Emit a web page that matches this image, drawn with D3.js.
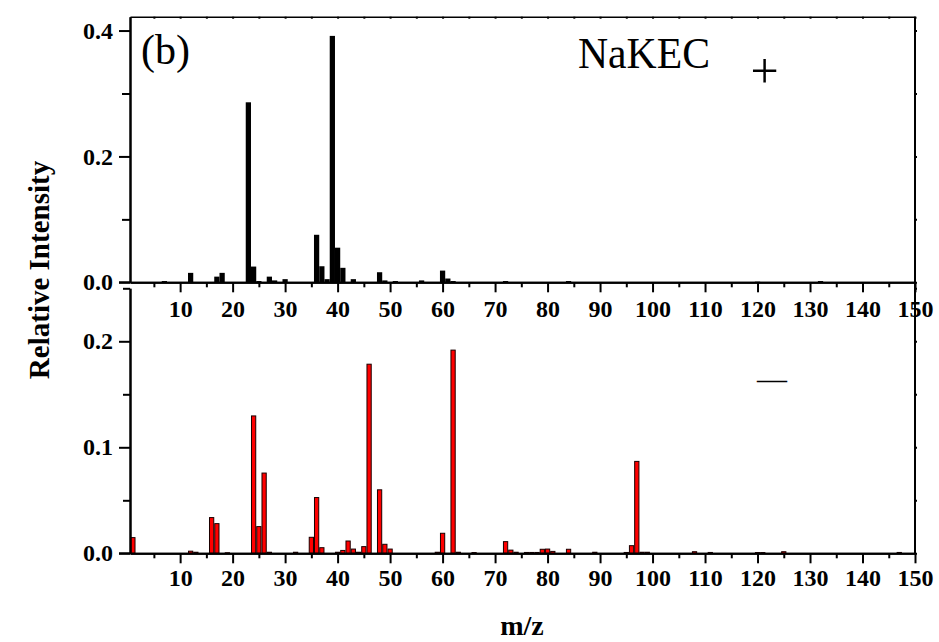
<!DOCTYPE html>
<html>
<head>
<meta charset="utf-8">
<script src="https://cdn.jsdelivr.net/npm/d3@7"></script>
<style>
  html, body { margin: 0; padding: 0; background: #fff; }
  svg { display: block; }
</style>
</head>
<body>
<svg id="chart" width="939" height="642"></svg>
<script>
// ---- data ----
const topMz  = [7, 12, 17, 18, 23, 24, 25, 27, 28, 30, 36, 37, 38, 39, 40, 41, 43, 48, 49, 51, 56, 60, 61, 62, 72, 84, 120, 132];
const topVal = [0.002, 0.015, 0.009, 0.015, 0.286, 0.025, 0.002, 0.009, 0.003, 0.005, 0.0755, 0.0255, 0.005, 0.3915, 0.055, 0.023, 0.005, 0.016, 0.003, 0.002, 0.003, 0.0186, 0.006, 0.002, 0.002, 0.002, 0.001, 0.002];

const botMz  = [1, 12, 13, 16, 17, 19, 24, 25, 26, 27, 32, 35, 36, 37, 40, 41, 42, 43, 44, 45, 46, 48, 49, 50, 59, 60, 62, 63, 66, 72, 73, 74, 76, 77, 78, 79, 80, 81, 84, 89, 95, 96, 97, 98, 99, 108, 111, 120, 121, 125, 147];
const botVal = [0.0148, 0.002, 0.001, 0.0337, 0.028, 0.0005, 0.1296, 0.0252, 0.0757, 0.001, 0.001, 0.0151, 0.0526, 0.0053, 0.001, 0.0027, 0.0116, 0.004, 0.001, 0.0063, 0.1784, 0.0599, 0.0085, 0.004, 0.001, 0.0189, 0.1917, 0.001, 0.0007, 0.011, 0.003, 0.001, 0.0008, 0.0008, 0.0008, 0.0038, 0.004, 0.0018, 0.0038, 0.001, 0.0008, 0.0072, 0.0867, 0.001, 0.001, 0.0015, 0.0008, 0.0007, 0.0007, 0.0015, 0.0008];

const xMajor = [10, 20, 30, 40, 50, 60, 70, 80, 90, 100, 110, 120, 130, 140, 150];
const xMinor = [5, 15, 25, 35, 45, 55, 65, 75, 85, 95, 105, 115, 125, 135, 145];
const topYMajor = [0.0, 0.2, 0.4];
const topYMinor = [0.1, 0.3];
const botYMajor = [0.0, 0.1, 0.2];
const botYMinor = [0.05, 0.15, 0.25];

// ---- layout ----
const svg = d3.select("#chart");
const L = 130, R = 915;
const topY0 = 282.3, topY1 = 16.7;
const botY0 = 553.3, botY1 = 288.3;
const serif = '"Liberation Serif", "Times New Roman", serif';

const x = d3.scaleLinear().domain([0.45, 150]).range([L, R]);
const yTop = d3.scaleLinear().domain([0, 0.422]).range([topY0, topY1]);
const yBot = d3.scaleLinear().domain([0, 0.25]).range([botY0, botY1]);

const topData = topMz.map((m, i) => ({m, v: topVal[i]}));
const botData = botMz.map((m, i) => ({m, v: botVal[i]}));

// ---- bars ----
svg.append("g").selectAll("rect").data(topData).join("rect")
  .attr("x", d => x(d.m - 0.5))
  .attr("width", d => x(d.m + 0.5) - x(d.m - 0.5))
  .attr("y", d => yTop(d.v))
  .attr("height", d => yTop(0) - yTop(d.v))
  .attr("fill", "#000");

svg.append("g").selectAll("rect").data(botData).join("rect")
  .attr("x", d => x(d.m - 0.5) + 0.5)
  .attr("width", d => x(d.m + 0.5) - x(d.m - 0.5) - 1)
  .attr("y", d => yBot(d.v))
  .attr("height", d => yBot(0) - yBot(d.v))
  .attr("fill", "#ff0000")
  .attr("stroke", "#1a0000")
  .attr("stroke-width", 1);

// ---- axes ----
function styleAxis(g, w) {
  g.attr("font-family", serif).attr("font-size", 24).attr("font-weight", "bold");
  g.selectAll(".domain").attr("stroke", "#000").attr("stroke-width", w);
  g.selectAll(".tick line").attr("stroke", "#000").attr("stroke-width", 2);
  g.selectAll(".tick text").attr("fill", "#000");
}

// top panel: bottom axis
svg.append("g").attr("transform", `translate(0,${topY0})`)
  .call(d3.axisBottom(x).tickValues(xMinor).tickSize(5).tickFormat("").tickSizeOuter(0))
  .call(g => styleAxis(g, 2));
svg.append("g").attr("transform", `translate(0,${topY0})`)
  .call(d3.axisBottom(x).tickValues(xMajor).tickSize(10).tickPadding(8).tickFormat(d3.format("d")).tickSizeOuter(0))
  .call(g => styleAxis(g, 2));

// bottom panel: bottom axis
svg.append("g").attr("transform", `translate(0,${botY0})`)
  .call(d3.axisBottom(x).tickValues(xMinor).tickSize(5).tickFormat("").tickSizeOuter(0))
  .call(g => styleAxis(g, 2));
svg.append("g").attr("transform", `translate(0,${botY0})`)
  .call(d3.axisBottom(x).tickValues(xMajor).tickSize(10).tickPadding(6).tickFormat(d3.format("d")).tickSizeOuter(0))
  .call(g => styleAxis(g, 2));

// extend the zero lines to the left tick
svg.append("line").attr("x1", 119).attr("x2", L).attr("y1", topY0).attr("y2", topY0).attr("stroke", "#000").attr("stroke-width", 2);
svg.append("line").attr("x1", 119).attr("x2", L).attr("y1", botY0).attr("y2", botY0).attr("stroke", "#000").attr("stroke-width", 2);

// top panel left axis
svg.append("g").attr("transform", `translate(${L},0)`)
  .call(d3.axisLeft(yTop).tickValues(topYMinor).tickSize(8).tickFormat("").tickSizeOuter(0))
  .call(g => styleAxis(g, 2));
svg.append("g").attr("transform", `translate(${L},0)`)
  .call(d3.axisLeft(yTop).tickValues(topYMajor).tickSize(11).tickPadding(6).tickFormat(d3.format(".1f")).tickSizeOuter(0))
  .call(g => styleAxis(g, 2));

// bottom panel left axis
svg.append("g").attr("transform", `translate(${L},0)`)
  .call(d3.axisLeft(yBot).tickValues(botYMinor).tickSize(7).tickFormat("").tickSizeOuter(0))
  .call(g => styleAxis(g, 2));
svg.append("g").attr("transform", `translate(${L},0)`)
  .call(d3.axisLeft(yBot).tickValues(botYMajor).tickSize(11).tickPadding(6).tickFormat(d3.format(".1f")).tickSizeOuter(0))
  .call(g => styleAxis(g, 2));

// top border with small inward ticks
svg.append("g").attr("transform", `translate(0,${topY1})`)
  .call(d3.axisBottom(x).tickValues(xMajor.concat(xMinor)).tickSize(2).tickFormat("").tickSizeOuter(0))
  .call(g => styleAxis(g, 1.5));

// right border with small outward ticks
svg.append("line").attr("x1", R).attr("x2", R).attr("y1", topY1).attr("y2", botY0)
  .attr("stroke", "#000").attr("stroke-width", 2);
svg.append("g").attr("transform", `translate(${R},0)`)
  .call(d3.axisRight(yTop).tickValues(topYMajor.concat(topYMinor)).tickSize(2).tickFormat(""))
  .call(g => { g.select(".domain").remove(); g.selectAll(".tick line").attr("stroke", "#000").attr("stroke-width", 2); });
svg.append("g").attr("transform", `translate(${R},0)`)
  .call(d3.axisRight(yBot).tickValues(botYMajor.concat(botYMinor)).tickSize(2).tickFormat(""))
  .call(g => { g.select(".domain").remove(); g.selectAll(".tick line").attr("stroke", "#000").attr("stroke-width", 2); });

// ---- text ----
svg.append("text").attr("x", 141).attr("y", 64)
  .attr("font-family", serif).attr("font-size", 42).text("(b)");
svg.append("text").attr("x", 578).attr("y", 68)
  .attr("font-family", serif).attr("font-size", 45)
  .attr("textLength", 132).attr("lengthAdjust", "spacingAndGlyphs").text("NaKEC");
svg.append("text").attr("x", 764.5).attr("y", 88).attr("text-anchor", "middle")
  .attr("font-family", serif).attr("font-size", 50).text("+");
svg.append("text").attr("x", 772).attr("y", 389).attr("text-anchor", "middle")
  .attr("font-family", serif).attr("font-size", 30).text("—");

svg.append("text")
  .attr("transform", "translate(49,270) rotate(-90)")
  .attr("text-anchor", "middle")
  .attr("font-family", serif).attr("font-weight", "bold").attr("font-size", 29)
  .text("Relative Intensity");
svg.append("text").attr("x", 522).attr("y", 635).attr("text-anchor", "middle")
  .attr("font-family", serif).attr("font-weight", "bold").attr("font-size", 28)
  .text("m/z");
</script>
</body>
</html>
